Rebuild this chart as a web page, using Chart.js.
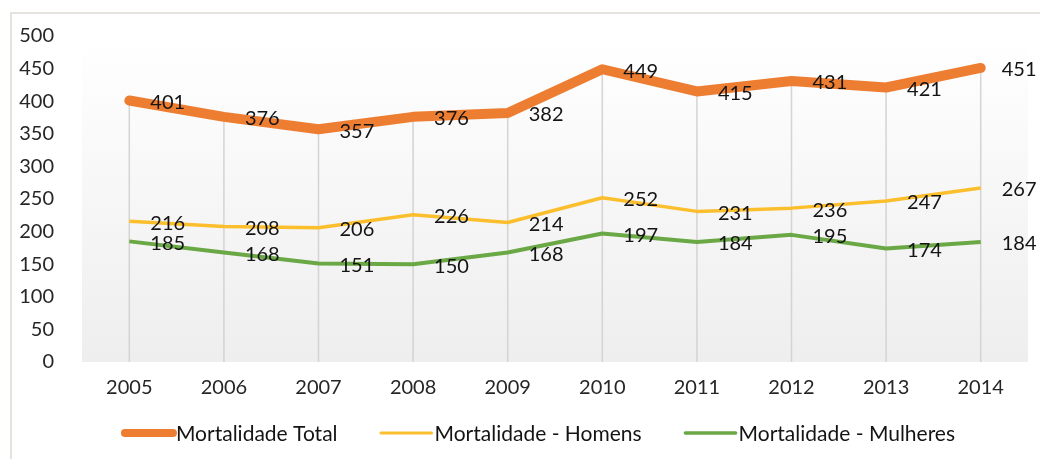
<!DOCTYPE html>
<html>
<head>
<meta charset="utf-8">
<script src="https://cdn.jsdelivr.net/npm/chart.js@4.4.1/dist/chart.umd.min.js"></script>
<style>
  html, body { margin: 0; padding: 0; background: #fff; }
  #wrap { width: 1040px; height: 459px; position: relative; }
</style>
</head>
<body>
<div id="wrap"><canvas id="chart" width="1040" height="459"></canvas></div>
<script>
const years = ['2005', '2006', '2007', '2008', '2009', '2010', '2011', '2012', '2013', '2014'];
const totalData = [401, 376, 357, 376, 382, 449, 415, 431, 421, 451];
const homensData = [216, 208, 206, 226, 214, 252, 231, 236, 247, 267];
const mulheresData = [185, 168, 151, 150, 168, 197, 184, 195, 174, 184];
const yTicks = [0, 50, 100, 150, 200, 250, 300, 350, 400, 450, 500];

const FONT = 'Lato, "Open Sans", sans-serif';

// moldura cinza + fundo em degradê da área do gráfico
const backgroundPlugin = {
  id: 'bgFrame',
  beforeDraw(chart) {
    const { ctx, chartArea: a } = chart;
    ctx.save();
    ctx.strokeStyle = '#e6e3df';
    ctx.lineWidth = 2;
    ctx.beginPath();
    ctx.moveTo(11, 470);
    ctx.lineTo(11, 13);
    ctx.lineTo(1050, 13);
    ctx.stroke();

    const grad = ctx.createLinearGradient(0, a.top, 0, a.bottom);
    grad.addColorStop(0, '#ffffff');
    grad.addColorStop(1, '#eeeeee');
    ctx.fillStyle = grad;
    ctx.fillRect(a.left, a.top, a.right - a.left, a.bottom - a.top);
    ctx.restore();
  }
};

// linhas verticais do ponto mais alto até o eixo
const dropLinesPlugin = {
  id: 'dropLines',
  beforeDatasetsDraw(chart) {
    const { ctx, chartArea: a } = chart;
    const metas = chart.data.datasets.map((d, i) => chart.getDatasetMeta(i));
    ctx.save();
    ctx.strokeStyle = '#d6d3d0';
    ctx.lineWidth = 1.5;
    years.forEach((y, i) => {
      const pts = metas.map(m => m.data[i]);
      const x = pts[0].x;
      const top = Math.min(...pts.map(p => p.y));
      ctx.beginPath();
      ctx.moveTo(x, top);
      ctx.lineTo(x, a.bottom);
      ctx.stroke();
    });
    ctx.restore();
  }
};

// rótulos de valor à direita de cada ponto
const valueLabelsPlugin = {
  id: 'valueLabels',
  afterDatasetsDraw(chart) {
    const { ctx } = chart;
    ctx.save();
    ctx.font = '20px ' + FONT;
    ctx.fillStyle = '#141414';
    ctx.textAlign = 'left';
    ctx.textBaseline = 'middle';
    chart.data.datasets.forEach((ds, di) => {
      chart.getDatasetMeta(di).data.forEach((pt, i) => {
        ctx.fillText(String(ds.data[i]), pt.x + 21, pt.y + 2);
      });
    });
    ctx.restore();
  }
};

// legenda desenhada à mão (linha + texto colados)
const legendPlugin = {
  id: 'customLegend',
  afterDraw(chart) {
    const { ctx } = chart;
    const lineW = 52, gap = 3, itemGap = 42, cy = 433, centerX = 538;
    ctx.save();
    ctx.font = '21px ' + FONT;
    const items = chart.data.datasets.map(ds => ({
      ds, w: lineW + gap + ctx.measureText(ds.label).width
    }));
    const total = items.reduce((s, it) => s + it.w, 0) + itemGap * (items.length - 1);
    let x = centerX - total / 2;
    items.forEach(({ ds, w }) => {
      ctx.strokeStyle = ds.borderColor;
      ctx.lineWidth = ds.legendWidth;
      ctx.lineCap = 'round';
      ctx.beginPath();
      ctx.moveTo(x + ds.legendWidth / 2, cy);
      ctx.lineTo(x + lineW, cy);
      ctx.stroke();
      ctx.fillStyle = '#141414';
      ctx.textAlign = 'left';
      ctx.textBaseline = 'middle';
      ctx.fillText(ds.label, x + lineW + gap, cy + 1);
      x += w + itemGap;
    });
    ctx.restore();
  }
};

new Chart(document.getElementById('chart'), {
  type: 'line',
  data: {
    labels: years,
    datasets: [
      {
        label: 'Mortalidade Total',
        data: totalData,
        borderColor: '#ed7d31',
        backgroundColor: '#ed7d31',
        borderWidth: 10,
        legendWidth: 8,
        pointRadius: 0,
        tension: 0,
        borderCapStyle: 'round',
        borderJoinStyle: 'round'
      },
      {
        label: 'Mortalidade - Homens',
        data: homensData,
        borderColor: '#fbbf2e',
        backgroundColor: '#fbbf2e',
        borderWidth: 3.5,
        legendWidth: 3,
        pointRadius: 0,
        tension: 0,
        borderJoinStyle: 'round'
      },
      {
        label: 'Mortalidade - Mulheres',
        data: mulheresData,
        borderColor: '#6aa845',
        backgroundColor: '#6aa845',
        borderWidth: 4,
        legendWidth: 3.5,
        pointRadius: 0,
        tension: 0,
        borderJoinStyle: 'round'
      }
    ]
  },
  options: {
    responsive: false,
    animation: false,
    devicePixelRatio: 1,
    layout: { padding: { top: 36, right: 12, left: 0, bottom: 49 } },
    plugins: {
      legend: { display: false },
      tooltip: { enabled: false }
    },
    scales: {
      x: {
        offset: true,
        grid: { display: false },
        border: { display: false },
        ticks: { color: '#262626', font: { family: FONT, size: 20 }, padding: 6 },
        afterFit(scale) { scale.height = 48; }
      },
      y: {
        min: 0,
        max: 500,
        afterBuildTicks(scale) { scale.ticks = yTicks.map(v => ({ value: v })); },
        grid: { display: false },
        border: { display: false },
        ticks: { color: '#262626', font: { family: FONT, size: 20 }, padding: 20 },
        afterFit(scale) { scale.width = 82; }
      }
    }
  },
  plugins: [backgroundPlugin, dropLinesPlugin, valueLabelsPlugin, legendPlugin]
});
</script>
</body>
</html>
